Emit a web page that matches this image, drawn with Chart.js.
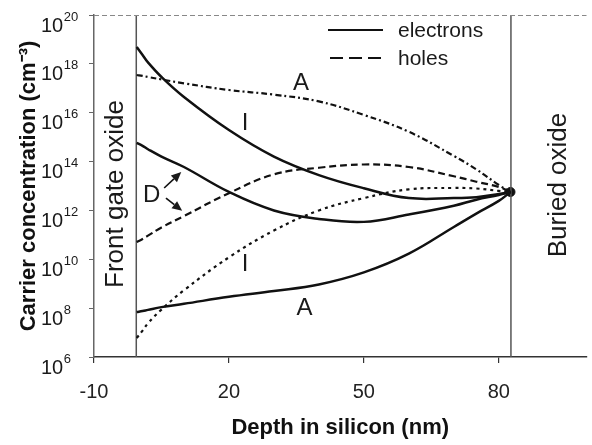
<!DOCTYPE html>
<html>
<head>
<meta charset="utf-8">
<script src="https://cdn.jsdelivr.net/npm/chart.js@4.4.1/dist/chart.umd.min.js"></script>
<style>
  html, body { margin: 0; padding: 0; background: #fff; }
  canvas { display: block; }
</style>
</head>
<body>
<canvas id="carrierChart" width="592" height="445"></canvas>
<script>
const FONT = '"Liberation Sans", Arial, Helvetica, sans-serif';

// depth in silicon (nm)
const depth = [-0.5, 0.8, 2, 5, 10, 20, 30, 40, 50, 60, 70, 75, 80, 82.6];

// electrons (solid): A = accumulation, D = depletion, I = inversion
const elecA = [6.9e7, 7.6e7, 8.5e7, 1.1e8, 1.5e8, 2.9e8, 5.0e8, 9.3e8, 2.9e9, 1.7e10, 2.1e11, 7.4e11, 2.45e12, 5.7e12];
const elecD = [5.8e14, 4.4e14, 3.2e14, 1.6e14, 6.0e13, 5.7e12, 1.0e12, 4.5e11, 3.4e11, 6.8e11, 1.55e12, 2.75e12, 4.3e12, 5.7e12];
const elecI = [4.9e18, 2.3e18, 1.15e18, 2.9e17, 4.4e16, 1.95e15, 1.6e14, 2.8e13, 8.1e12, 3.2e12, 3.2e12, 3.5e12, 4.7e12, 5.7e12];

// holes (dashed)
const holeA = [3.5e17, 3.2e17, 2.9e17, 2.3e17, 1.6e17, 8.5e16, 5.5e16, 2.9e16, 8.1e15, 1.66e15, 1.7e14, 4.8e13, 1.1e13, 5.7e12];
const holeD = [5.1e10, 6.8e10, 9.3e10, 2.0e11, 5.9e11, 5.1e12, 3.0e13, 5.6e13, 7.6e13, 6.0e13, 2.5e13, 1.5e13, 9.1e12, 5.7e12];
const holeI = [6.0e6, 1.2e7, 2.4e7, 8.7e7, 5.4e8, 1.2e10, 1.5e11, 1.0e12, 3.2e12, 7.3e12, 8.3e12, 7.9e12, 6.3e12, 5.7e12];

// oxide interfaces and the common point at the back interface
const frontEdge = -0.6;
const buriedEdge = 82.7;
const junction = { x: 82.6, y: 5.7e12 };

// axis ticks
const xTicks = [-10, 20, 50, 80];
const yExps = [6, 8, 10, 12, 14, 16, 18, 20];

// curve labels (data coords)
const curveLabels = [
  { text: 'A', x: 36, y: 1.8e17 },
  { text: 'I', x: 23.6, y: 4.2e15 },
  { text: 'I', x: 23.6, y: 7.0e9 },
  { text: 'A', x: 36.8, y: 1.1e8 },
  { text: 'D', x: 2.8, y: 4.7e12 }
];
// arrows from the D label to its two curves
const dArrows = [
  { x1: 5.6, y1: 8.3e12, x2: 9.4, y2: 3.7e13 },
  { x1: 6.0, y1: 3.2e12, x2: 9.6, y2: 9.6e11 }
];

const pts = (ys) => depth.map((d, i) => ({ x: d, y: ys[i] }));

function curve(ys, dash, width) {
  return {
    data: pts(ys),
    showLine: true,
    borderColor: '#111',
    borderWidth: width,
    borderDash: dash,
    pointRadius: 0,
    tension: 0.4
  };
}

function edge(xv) {
  return {
    data: [{ x: xv, y: 1e6 }, { x: xv, y: 1e20 }],
    showLine: true,
    borderColor: '#555',
    borderWidth: 1.5,
    pointRadius: 0
  };
}

function arrow(ctx, x1, y1, x2, y2) {
  const ang = Math.atan2(y2 - y1, x2 - x1);
  const hl = 10, hw = 4.5;
  const bx = x2 - hl * Math.cos(ang), by = y2 - hl * Math.sin(ang);
  ctx.beginPath();
  ctx.moveTo(x1, y1);
  ctx.lineTo(bx, by);
  ctx.stroke();
  ctx.beginPath();
  ctx.moveTo(x2, y2);
  ctx.lineTo(bx + hw * Math.sin(ang), by - hw * Math.cos(ang));
  ctx.lineTo(bx - hw * Math.sin(ang), by + hw * Math.cos(ang));
  ctx.closePath();
  ctx.fill();
}

function vText(ctx, text, px, py, size) {
  ctx.save();
  ctx.translate(px, py);
  ctx.rotate(-Math.PI / 2);
  ctx.font = size + 'px ' + FONT;
  ctx.textAlign = 'center';
  ctx.textBaseline = 'alphabetic';
  ctx.fillText(text, 0, 0);
  ctx.restore();
}

const overlay = {
  id: 'overlay',
  afterDatasetsDraw(chart) {
    const { ctx, chartArea: a, scales: { x, y } } = chart;
    ctx.save();

    // dashed top frame
    ctx.strokeStyle = '#888';
    ctx.lineWidth = 1.2;
    ctx.setLineDash([5, 3]);
    ctx.beginPath();
    ctx.moveTo(a.left, a.top + 0.5);
    ctx.lineTo(a.right, a.top + 0.5);
    ctx.stroke();
    ctx.setLineDash([]);

    // y tick labels as 10 with a raised exponent
    ctx.fillStyle = '#1a1a1a';
    ctx.textAlign = 'left';
    ctx.textBaseline = 'alphabetic';
    yExps.forEach(e => {
      const py = y.getPixelForValue(Math.pow(10, e));
      ctx.font = '20px ' + FONT;
      ctx.fillText('10', a.left - 53, py + 16.5);
      const w = ctx.measureText('10').width;
      ctx.font = '13px ' + FONT;
      ctx.fillText(String(e), a.left - 53 + w + 0.5, py + 5.5);
    });

    // legend
    ctx.strokeStyle = '#111';
    ctx.lineWidth = 2;
    ctx.beginPath();
    ctx.moveTo(a.left + 234, a.top + 15);
    ctx.lineTo(a.left + 289, a.top + 15);
    ctx.stroke();
    ctx.setLineDash([13, 6]);
    ctx.beginPath();
    ctx.moveTo(a.left + 236, a.top + 43);
    ctx.lineTo(a.left + 289, a.top + 43);
    ctx.stroke();
    ctx.setLineDash([]);
    ctx.font = '21px ' + FONT;
    ctx.textBaseline = 'middle';
    ctx.fillText('electrons', a.left + 304, a.top + 16);
    ctx.fillText('holes', a.left + 304, a.top + 44);

    // curve labels
    ctx.font = '24px ' + FONT;
    ctx.textAlign = 'center';
    ctx.textBaseline = 'middle';
    curveLabels.forEach(l => {
      ctx.fillText(l.text, x.getPixelForValue(l.x), y.getPixelForValue(l.y) + 1);
    });

    // arrows
    ctx.lineWidth = 1.6;
    dArrows.forEach(r => {
      arrow(ctx, x.getPixelForValue(r.x1), y.getPixelForValue(r.y1),
                 x.getPixelForValue(r.x2), y.getPixelForValue(r.y2));
    });

    // oxide labels
    vText(ctx, 'Front gate oxide', x.getPixelForValue(-3.5), y.getPixelForValue(4.7e12), 26);
    vText(ctx, 'Buried oxide', x.getPixelForValue(95), y.getPixelForValue(1.1e13), 26);

    ctx.restore();
  }
};

new Chart(document.getElementById('carrierChart'), {
  type: 'scatter',
  data: {
    datasets: [
      curve(elecI, [], 2.5),
      curve(elecD, [], 2.5),
      curve(elecA, [], 2.5),
      curve(holeA, [6, 3, 2, 3], 2.2),
      curve(holeD, [7, 4], 2.2),
      curve(holeI, [3, 4], 2.2),
      edge(frontEdge),
      edge(buriedEdge),
      { data: [junction], pointRadius: 4.5, backgroundColor: '#111', borderColor: '#111', showLine: false }
    ]
  },
  options: {
    responsive: false,
    animation: false,
    layout: { padding: { top: 15, right: 0, bottom: 0, left: 0 } },
    plugins: { legend: { display: false }, tooltip: { enabled: false } },
    scales: {
      x: {
        type: 'linear',
        min: -10,
        max: 99.5,
        afterBuildTicks: s => { s.ticks = xTicks.map(v => ({ value: v })); },
        afterFit: s => { s.height = 88; },
        ticks: { font: { size: 20, family: FONT }, color: '#222', padding: 17, autoSkip: false, maxRotation: 0 },
        grid: { drawOnChartArea: false, drawTicks: true, tickLength: 6, color: '#333', lineWidth: 1.2 },
        border: { color: '#333', width: 1.5 },
        title: {
          display: true,
          text: 'Depth in silicon (nm)',
          font: { size: 22, weight: 'bold', family: FONT },
          color: '#111',
          padding: { top: 0, bottom: 4 }
        }
      },
      y: {
        type: 'logarithmic',
        min: 1e6,
        max: 1e20,
        afterBuildTicks: s => { s.ticks = yExps.map(e => ({ value: Math.pow(10, e) })); },
        afterFit: s => { s.width = 94; },
        ticks: { display: false, autoSkip: false },
        grid: { drawOnChartArea: false, drawTicks: true, tickLength: 5, color: '#666' },
        border: { color: '#666', width: 1.5 },
        title: {
          display: true,
          text: 'Carrier concentration (cm⁻³)',
          font: { size: 22, weight: 'bold', family: FONT },
          color: '#111',
          padding: { top: 16, bottom: 0 }
        }
      }
    }
  },
  plugins: [overlay]
});
</script>
</body>
</html>
